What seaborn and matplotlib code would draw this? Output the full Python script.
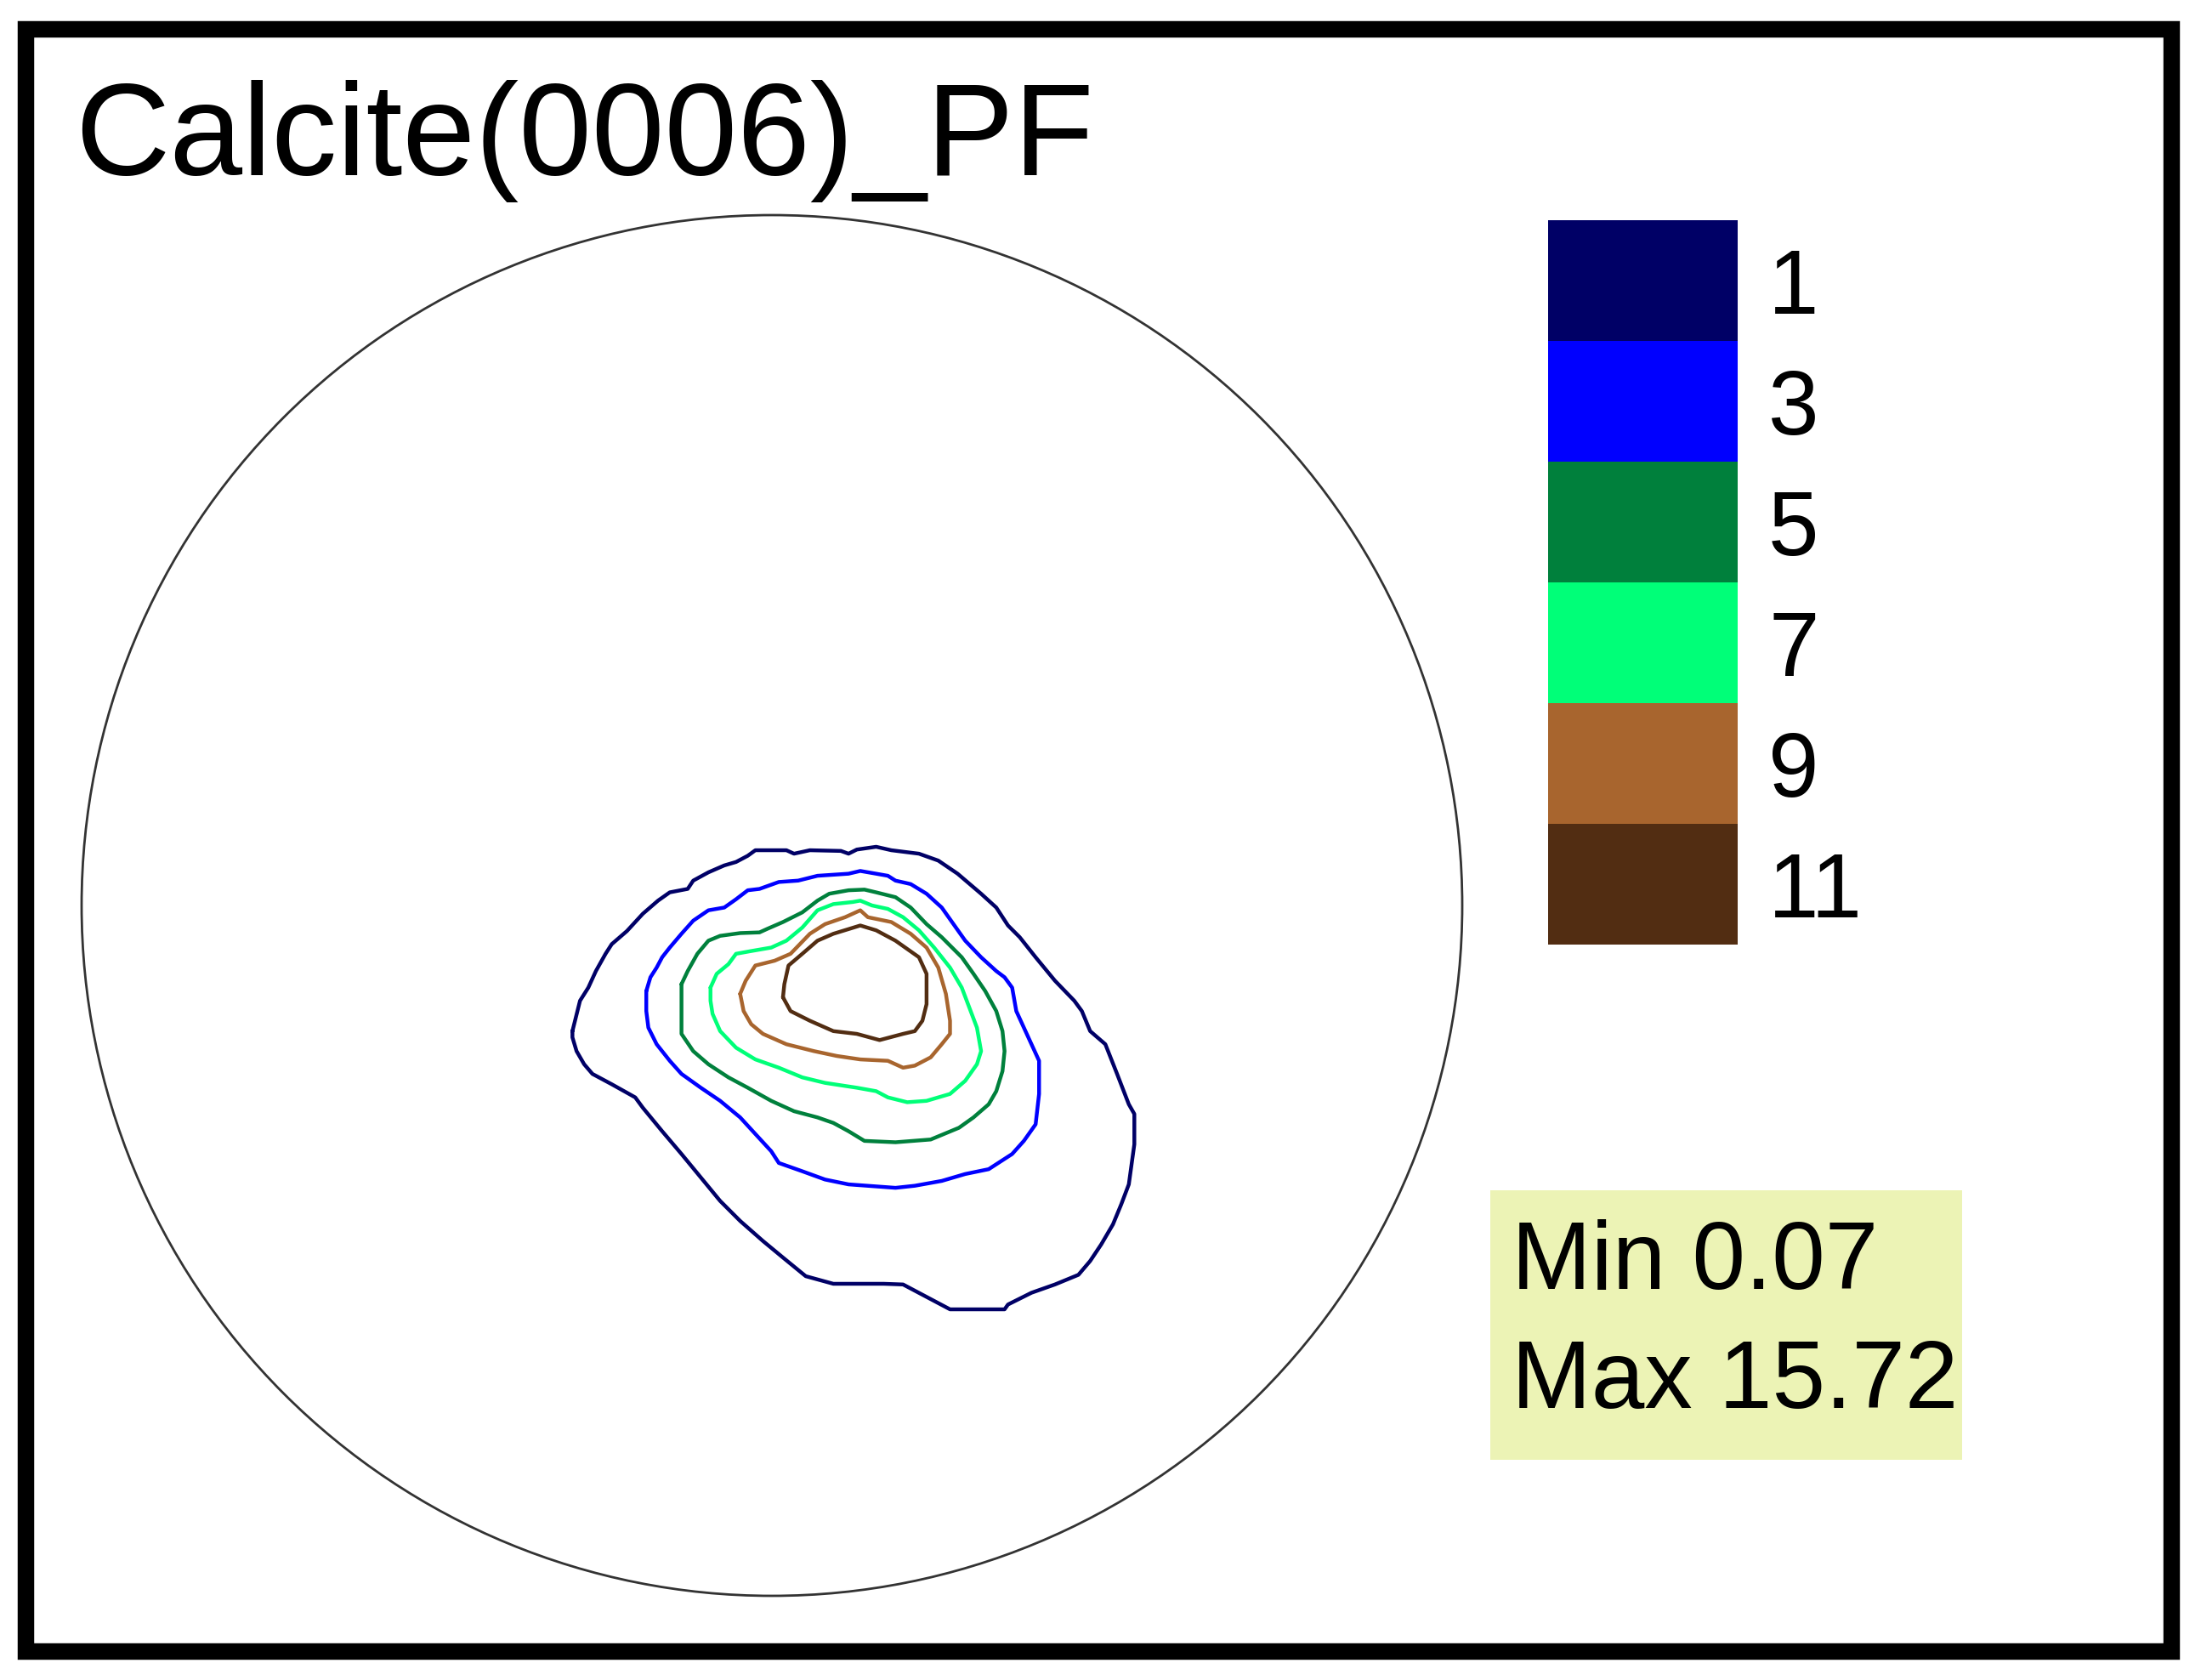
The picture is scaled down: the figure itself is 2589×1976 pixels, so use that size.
import numpy as np
import pandas as pd
import matplotlib
matplotlib.use("Agg")
import matplotlib.pyplot as plt
import seaborn as sns
from matplotlib.colors import ListedColormap
from matplotlib.patches import Circle, Rectangle

# ---------------- data ----------------
title = "Calcite(0006)_PF"
levels = [1, 3, 5, 7, 9, 11]
level_labels = ["1", "3", "5", "7", "9", "11"]
level_colors = ["#000066", "#0000FF", "#00803C", "#00FF78", "#A8652E", "#522D12"]
min_value = 0.07
max_value = 15.72

# contour vertices in pole-figure units (unit circle)
c1_x = [-0.289, -0.278, -0.266, -0.255, -0.241, -0.232, -0.210, -0.187, -0.165, -0.148, -0.122, -0.114,
        -0.092, -0.069, -0.052, -0.035, -0.024, 0.021, 0.032, 0.055, 0.100, 0.111, 0.123, 0.151, 0.173,
        0.213, 0.241, 0.269, 0.303, 0.325, 0.342, 0.359, 0.382, 0.410, 0.438, 0.449, 0.461, 0.483, 0.500,
        0.517, 0.525, 0.525, 0.517, 0.506, 0.494, 0.477, 0.461, 0.444, 0.410, 0.376, 0.342, 0.337, 0.258,
        0.190, 0.162, 0.089, 0.049, 0.016, -0.013, -0.046, -0.075, -0.103, -0.131, -0.159, -0.187, -0.198,
        -0.232, -0.260, -0.272, -0.283, -0.289]
c1_y = [-0.182, -0.138, -0.119, -0.095, -0.070, -0.056, -0.037, -0.012, 0.007, 0.019, 0.024, 0.036,
        0.048, 0.058, 0.063, 0.072, 0.080, 0.080, 0.075, 0.080, 0.079, 0.075, 0.081, 0.085, 0.080,
        0.075, 0.065, 0.046, 0.017, -0.003, -0.029, -0.046, -0.075, -0.109, -0.138, -0.153, -0.182, -0.201,
        -0.244, -0.288, -0.302, -0.346, -0.404, -0.433, -0.462, -0.491, -0.515, -0.535, -0.549, -0.561,
        -0.578, -0.585, -0.585, -0.549, -0.548, -0.548, -0.537, -0.510, -0.486, -0.457, -0.428, -0.394,
        -0.360, -0.327, -0.293, -0.278, -0.259, -0.244, -0.230, -0.211, -0.191]

c3_x = [-0.182, -0.176, -0.167, -0.159, -0.148, -0.131, -0.114, -0.092, -0.069, -0.052, -0.035, -0.018,
        0.010, 0.038, 0.066, 0.111, 0.128, 0.151, 0.168, 0.179, 0.201, 0.224, 0.246, 0.263, 0.280, 0.303,
        0.325, 0.337, 0.348, 0.354, 0.365, 0.376, 0.387, 0.387, 0.382, 0.365, 0.348, 0.314, 0.280, 0.246,
        0.207, 0.179, 0.111, 0.077, 0.044, 0.010, -0.001, -0.024, -0.046, -0.075, -0.103, -0.131, -0.148,
        -0.167, -0.179, -0.182]
c3_y = [-0.124, -0.104, -0.090, -0.075, -0.061, -0.041, -0.022, -0.007, -0.003, 0.009, 0.022, 0.024,
        0.034, 0.036, 0.043, 0.046, 0.050, 0.046, 0.043, 0.036, 0.031, 0.017, -0.003, -0.027, -0.051,
        -0.075, -0.095, -0.104, -0.119, -0.153, -0.177, -0.201, -0.225, -0.273, -0.317, -0.341, -0.360,
        -0.382, -0.389, -0.399, -0.406, -0.409, -0.404, -0.397, -0.385, -0.373, -0.356, -0.331, -0.307,
        -0.283, -0.264, -0.244, -0.225, -0.201, -0.177, -0.153]

c5_x = [-0.131, -0.122, -0.108, -0.092, -0.075, -0.046, -0.018, -0.007, 0.016, 0.044, 0.066, 0.083,
        0.111, 0.134, 0.151, 0.179, 0.201, 0.224, 0.246, 0.275, 0.292, 0.309, 0.325, 0.334, 0.337, 0.334,
        0.325, 0.314, 0.292, 0.271, 0.230, 0.179, 0.134, 0.111, 0.089, 0.066, 0.032, -0.001, -0.035,
        -0.063, -0.092, -0.114, -0.131, -0.131]
c5_y = [-0.114, -0.095, -0.070, -0.051, -0.044, -0.040, -0.039, -0.034, -0.024, -0.010, 0.007, 0.017,
        0.022, 0.023, 0.019, 0.012, -0.003, -0.027, -0.046, -0.075, -0.099, -0.124, -0.153, -0.182,
        -0.211, -0.240, -0.269, -0.288, -0.307, -0.322, -0.339, -0.343, -0.341, -0.327, -0.315, -0.307,
        -0.298, -0.283, -0.264, -0.249, -0.230, -0.211, -0.186, -0.153]

c7_x = [-0.089, -0.080, -0.063, -0.052, -0.030, -0.001, 0.021, 0.044, 0.066, 0.089, 0.117, 0.128,
        0.145, 0.168, 0.190, 0.213, 0.235, 0.258, 0.275, 0.286, 0.297, 0.303, 0.297, 0.280, 0.258, 0.224,
        0.196, 0.168, 0.151, 0.123, 0.077, 0.044, 0.010, -0.024, -0.052, -0.075, -0.086, -0.089]
c7_y = [-0.119, -0.099, -0.085, -0.070, -0.066, -0.061, -0.051, -0.032, -0.007, 0.002, 0.005, 0.007,
        0.000, -0.005, -0.017, -0.036, -0.061, -0.090, -0.119, -0.148, -0.177, -0.211, -0.230, -0.254,
        -0.273, -0.283, -0.285, -0.278, -0.269, -0.264, -0.257, -0.249, -0.235, -0.223, -0.206, -0.182,
        -0.157, -0.138]

c9_x = [-0.046, -0.038, -0.024, 0.004, 0.027, 0.055, 0.077, 0.106, 0.128, 0.139, 0.173, 0.201, 0.224,
        0.241, 0.252, 0.258, 0.258, 0.246, 0.230, 0.207, 0.190, 0.168, 0.128, 0.094, 0.061, 0.021, -0.013,
        -0.030, -0.041]
c9_y = [-0.128, -0.109, -0.087, -0.080, -0.070, -0.041, -0.027, -0.017, -0.007, -0.017, -0.024, -0.041,
        -0.061, -0.090, -0.128, -0.167, -0.186, -0.201, -0.220, -0.232, -0.235, -0.225, -0.223, -0.218,
        -0.211, -0.201, -0.186, -0.172, -0.153]

c11_x = [0.016, 0.018, 0.024, 0.044, 0.066, 0.089, 0.128, 0.151, 0.179, 0.213, 0.224, 0.224, 0.218,
         0.207, 0.190, 0.156, 0.123, 0.089, 0.055, 0.027]
c11_y = [-0.133, -0.114, -0.087, -0.070, -0.051, -0.041, -0.029, -0.036, -0.051, -0.075, -0.099, -0.143,
         -0.167, -0.182, -0.186, -0.195, -0.186, -0.182, -0.167, -0.153]

contour_x = [c1_x, c3_x, c5_x, c7_x, c9_x, c11_x]
contour_y = [c1_y, c3_y, c5_y, c7_y, c9_y, c11_y]

# ---------------- style ----------------
sns.set_style("white")
plt.rcParams["font.family"] = ["Liberation Sans", "DejaVu Sans"]
plt.rcParams["text.color"] = "black"
plt.rcParams["ytick.color"] = "black"
plt.rcParams["ytick.labelcolor"] = "black"

W, H = 2589, 1976
fig = plt.figure(figsize=(W / 100, H / 100), dpi=100)

def fx(px):
    return px / W

def fy(py):
    return 1 - py / H

# ---------------- pole figure ----------------
cx, cy, r = 908, 1065, 812
ax = fig.add_axes([fx(cx - r), fy(cy + r), 2 * r / W, 2 * r / H])

rows = []
for lev, xs, ys in zip(levels, contour_x, contour_y):
    xs = list(xs) + [xs[0]]
    ys = list(ys) + [ys[0]]
    for i, (x, y) in enumerate(zip(xs, ys)):
        rows.append({"x": x, "y": y, "level": lev, "order": i})
df = pd.DataFrame(rows)

sns.lineplot(data=df, x="x", y="y", hue="level", units="level", estimator=None,
             sort=False, palette=dict(zip(levels, level_colors)), linewidth=3.2,
             legend=False, ax=ax)

ax.add_patch(Circle((0, 0), 1.0, fill=False, ec="#333333", lw=2.0, clip_on=False))
ax.set_xlim(-1, 1)
ax.set_ylim(-1, 1)
ax.set_aspect("equal")
ax.axis("off")

# ---------------- colour key ----------------
cax = fig.add_axes([fx(1821), fy(1111), (2044 - 1821) / W, (1111 - 259) / H])
sns.heatmap(np.array(levels).reshape(-1, 1), cmap=ListedColormap(level_colors),
            vmin=levels[0], vmax=levels[-1], cbar=False, ax=cax,
            xticklabels=False, yticklabels=level_labels)
cax.yaxis.tick_right()
cax.tick_params(axis="y", length=0, pad=26, labelsize=77, labelcolor="black")
plt.setp(cax.get_yticklabels(), rotation=0, ha="left", color="black")

# ---------------- title ----------------
fig.text(fx(88), fy(206), title, fontsize=111, va="baseline", ha="left", color="black")

# ---------------- min / max box ----------------
fig.add_artist(Rectangle((fx(1753), fy(1717)), (2308 - 1753) / W, (1717 - 1400) / H,
                         transform=fig.transFigure, fc="#ECF3B5", ec="none"))
fig.text(fx(1778), fy(1516), f"Min {min_value:.2f}", fontsize=81, va="baseline", ha="left",
         color="black")
fig.text(fx(1778), fy(1656), f"Max {max_value:.2f}", fontsize=81, va="baseline", ha="left",
         color="black")

# ---------------- frame ----------------
fig.add_artist(Rectangle((fx(30), fy(1942)), (2554 - 30) / W, (1942 - 34) / H,
                         transform=fig.transFigure, fill=False, ec="black", lw=14))

fig.savefig("out.png", dpi=100)
